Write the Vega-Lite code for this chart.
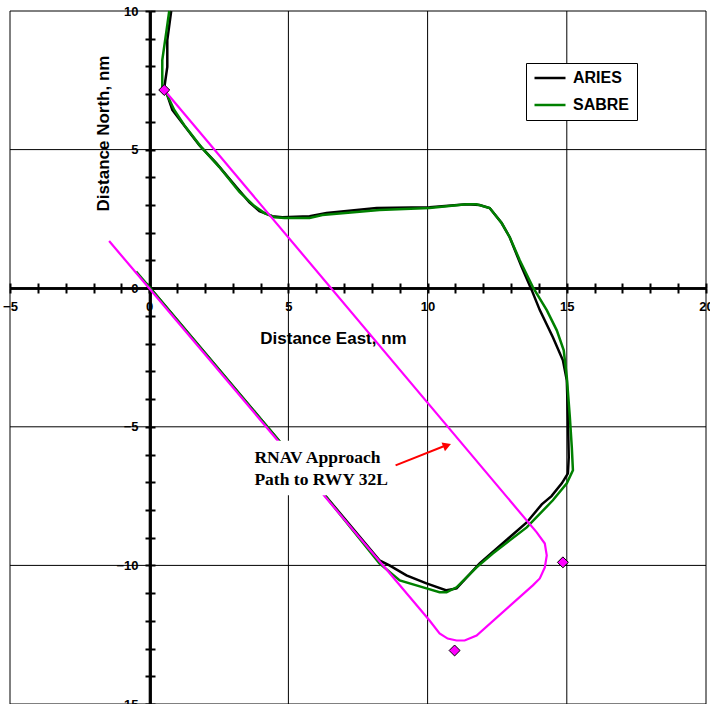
{
  "$schema": "https://vega.github.io/schema/vega-lite/v6.json",
  "width": 696,
  "height": 693,
  "autosize": "none",
  "padding": {"left": 10, "top": 11, "right": 4, "bottom": 0},
  "background": "white",
  "config": {"view": {"stroke": null}},
  "datasets": {
    "gx": [{"v": -5}, {"v": 0}, {"v": 5}, {"v": 10}, {"v": 15}, {"v": 20}],
    "gy": [{"v": -15}, {"v": -10}, {"v": -5}, {"v": 0}, {"v": 5}, {"v": 10}],
    "tracks": [
      {"series": "ARIES", "i": 0, "x": 0.79, "y": 10.0},
      {"series": "ARIES", "i": 1, "x": 0.65, "y": 8.95},
      {"series": "ARIES", "i": 2, "x": 0.65, "y": 7.98},
      {"series": "ARIES", "i": 3, "x": 0.54, "y": 7.22},
      {"series": "ARIES", "i": 4, "x": 0.65, "y": 6.97},
      {"series": "ARIES", "i": 5, "x": 0.83, "y": 6.43},
      {"series": "ARIES", "i": 6, "x": 1.19, "y": 5.96},
      {"series": "ARIES", "i": 7, "x": 1.80, "y": 5.16},
      {"series": "ARIES", "i": 8, "x": 2.41, "y": 4.51},
      {"series": "ARIES", "i": 9, "x": 3.13, "y": 3.65},
      {"series": "ARIES", "i": 10, "x": 3.60, "y": 3.10},
      {"series": "ARIES", "i": 11, "x": 3.96, "y": 2.78},
      {"series": "ARIES", "i": 12, "x": 4.42, "y": 2.60},
      {"series": "ARIES", "i": 13, "x": 4.78, "y": 2.56},
      {"series": "ARIES", "i": 14, "x": 5.76, "y": 2.60},
      {"series": "ARIES", "i": 15, "x": 6.37, "y": 2.71},
      {"series": "ARIES", "i": 16, "x": 8.17, "y": 2.89},
      {"series": "ARIES", "i": 17, "x": 10.07, "y": 2.92},
      {"series": "ARIES", "i": 18, "x": 11.40, "y": 3.03},
      {"series": "ARIES", "i": 19, "x": 11.87, "y": 3.00},
      {"series": "ARIES", "i": 20, "x": 12.23, "y": 2.89},
      {"series": "ARIES", "i": 21, "x": 12.66, "y": 2.35},
      {"series": "ARIES", "i": 22, "x": 12.95, "y": 1.84},
      {"series": "ARIES", "i": 23, "x": 13.38, "y": 0.76},
      {"series": "ARIES", "i": 24, "x": 13.74, "y": -0.07},
      {"series": "ARIES", "i": 25, "x": 14.03, "y": -0.79},
      {"series": "ARIES", "i": 26, "x": 14.50, "y": -1.77},
      {"series": "ARIES", "i": 27, "x": 14.86, "y": -2.60},
      {"series": "ARIES", "i": 28, "x": 15.00, "y": -3.32},
      {"series": "ARIES", "i": 29, "x": 15.04, "y": -4.66},
      {"series": "ARIES", "i": 30, "x": 15.07, "y": -6.10},
      {"series": "ARIES", "i": 31, "x": 15.04, "y": -6.68},
      {"series": "ARIES", "i": 32, "x": 14.82, "y": -7.04},
      {"series": "ARIES", "i": 33, "x": 14.45, "y": -7.50},
      {"series": "ARIES", "i": 34, "x": 14.10, "y": -7.80},
      {"series": "ARIES", "i": 35, "x": 13.56, "y": -8.45},
      {"series": "ARIES", "i": 36, "x": 11.87, "y": -9.93},
      {"series": "ARIES", "i": 37, "x": 11.04, "y": -10.83},
      {"series": "ARIES", "i": 38, "x": 10.68, "y": -10.90},
      {"series": "ARIES", "i": 39, "x": 9.96, "y": -10.65},
      {"series": "ARIES", "i": 40, "x": 9.24, "y": -10.36},
      {"series": "ARIES", "i": 41, "x": 8.63, "y": -10.00},
      {"series": "ARIES", "i": 42, "x": 8.27, "y": -9.82},
      {"series": "ARIES", "i": 43, "x": 6.0, "y": -7.09},
      {"series": "ARIES", "i": 44, "x": 4.0, "y": -4.71},
      {"series": "ARIES", "i": 45, "x": 2.0, "y": -2.33},
      {"series": "ARIES", "i": 46, "x": -0.1, "y": 0.17},
      {"series": "SABRE", "i": 0, "x": 0.72, "y": 10.0},
      {"series": "SABRE", "i": 1, "x": 0.61, "y": 9.21},
      {"series": "SABRE", "i": 2, "x": 0.47, "y": 8.23},
      {"series": "SABRE", "i": 3, "x": 0.47, "y": 7.26},
      {"series": "SABRE", "i": 4, "x": 0.61, "y": 7.04},
      {"series": "SABRE", "i": 5, "x": 0.90, "y": 6.43},
      {"series": "SABRE", "i": 6, "x": 1.26, "y": 5.88},
      {"series": "SABRE", "i": 7, "x": 1.87, "y": 5.09},
      {"series": "SABRE", "i": 8, "x": 2.52, "y": 4.37},
      {"series": "SABRE", "i": 9, "x": 3.24, "y": 3.47},
      {"series": "SABRE", "i": 10, "x": 3.78, "y": 2.96},
      {"series": "SABRE", "i": 11, "x": 4.14, "y": 2.71},
      {"series": "SABRE", "i": 12, "x": 4.50, "y": 2.56},
      {"series": "SABRE", "i": 13, "x": 4.86, "y": 2.53},
      {"series": "SABRE", "i": 14, "x": 5.76, "y": 2.53},
      {"series": "SABRE", "i": 15, "x": 6.22, "y": 2.64},
      {"series": "SABRE", "i": 16, "x": 8.27, "y": 2.82},
      {"series": "SABRE", "i": 17, "x": 10.07, "y": 2.89},
      {"series": "SABRE", "i": 18, "x": 11.40, "y": 3.03},
      {"series": "SABRE", "i": 19, "x": 11.76, "y": 3.03},
      {"series": "SABRE", "i": 20, "x": 12.23, "y": 2.89},
      {"series": "SABRE", "i": 21, "x": 12.66, "y": 2.35},
      {"series": "SABRE", "i": 22, "x": 12.95, "y": 1.84},
      {"series": "SABRE", "i": 23, "x": 13.31, "y": 1.01},
      {"series": "SABRE", "i": 24, "x": 13.78, "y": 0.04},
      {"series": "SABRE", "i": 25, "x": 14.28, "y": -0.79},
      {"series": "SABRE", "i": 26, "x": 14.64, "y": -1.52},
      {"series": "SABRE", "i": 27, "x": 14.89, "y": -2.24},
      {"series": "SABRE", "i": 28, "x": 15.00, "y": -3.21},
      {"series": "SABRE", "i": 29, "x": 15.11, "y": -4.66},
      {"series": "SABRE", "i": 30, "x": 15.18, "y": -5.74},
      {"series": "SABRE", "i": 31, "x": 15.22, "y": -6.57},
      {"series": "SABRE", "i": 32, "x": 15.00, "y": -7.04},
      {"series": "SABRE", "i": 33, "x": 14.50, "y": -7.65},
      {"series": "SABRE", "i": 34, "x": 13.56, "y": -8.63},
      {"series": "SABRE", "i": 35, "x": 12.34, "y": -9.57},
      {"series": "SABRE", "i": 36, "x": 11.76, "y": -10.07},
      {"series": "SABRE", "i": 37, "x": 11.04, "y": -10.79},
      {"series": "SABRE", "i": 38, "x": 10.68, "y": -10.97},
      {"series": "SABRE", "i": 39, "x": 10.43, "y": -10.97},
      {"series": "SABRE", "i": 40, "x": 9.96, "y": -10.83},
      {"series": "SABRE", "i": 41, "x": 9.00, "y": -10.54},
      {"series": "SABRE", "i": 42, "x": 8.27, "y": -9.93},
      {"series": "SABRE", "i": 43, "x": 6.0, "y": -7.09},
      {"series": "SABRE", "i": 44, "x": 4.0, "y": -4.71},
      {"series": "SABRE", "i": 45, "x": 2.0, "y": -2.33},
      {"series": "SABRE", "i": 46, "x": 0.0, "y": 0.05},
      {"series": "SABRE", "i": 47, "x": -0.47, "y": 0.6}
    ],
    "rnav": [
      {"i": 0, "x": -1.44, "y": 1.70},
      {"i": 1, "x": 0.0, "y": 0.0},
      {"i": 2, "x": 10.07, "y": -11.99},
      {"i": 3, "x": 10.43, "y": -12.45},
      {"i": 4, "x": 10.72, "y": -12.64},
      {"i": 5, "x": 11.04, "y": -12.71},
      {"i": 6, "x": 11.33, "y": -12.71},
      {"i": 7, "x": 11.76, "y": -12.53},
      {"i": 8, "x": 13.78, "y": -10.72},
      {"i": 9, "x": 14.03, "y": -10.47},
      {"i": 10, "x": 14.21, "y": -10.07},
      {"i": 11, "x": 14.28, "y": -9.64},
      {"i": 12, "x": 14.21, "y": -9.21},
      {"i": 13, "x": 13.92, "y": -8.81},
      {"i": 14, "x": 0.54, "y": 7.15}
    ],
    "waypoints": [
      {"x": 0.54, "y": 7.15},
      {"x": 10.97, "y": -13.07},
      {"x": 14.86, "y": -9.89}
    ],
    "notebox": [{"x": 3.6, "x2": 8.85, "y": -5.5, "y2": -7.47}],
    "note": [
      {"t": "RNAV Approach", "x": 3.78, "y": -6.32},
      {"t": "Path to RWY 32L", "x": 3.78, "y": -7.11}
    ],
    "arrow": [{"x": 8.85, "y": -6.39, "x2": 10.58, "y2": -5.70}],
    "arrowhead": [{"x": 10.70, "y": -5.67}]
  },
  "resolve": {"axis": {"x": "independent", "y": "independent"}},
  "layer": [
    {
      "data": {"name": "gx"},
      "mark": {"type": "rule", "color": "#000000", "strokeWidth": 1},
      "encoding": {
        "x": {
          "field": "v", "type": "quantitative",
          "scale": {"domain": [-5, 20], "nice": false, "zero": false},
          "axis": {
            "orient": "bottom", "offset": -416,
            "values": [-5,-4,-3,-2,-1,0,1,2,3,4,5,6,7,8,9,10,11,12,13,14,15,16,17,18,19,20],
            "labelExpr": "datum.value % 5 == 0 ? datum.label : ''",
            "grid": false, "domain": true, "domainColor": "#000000", "domainWidth": 2.5,
            "ticks": true, "tickSize": 5, "tickWidth": 2, "tickColor": "#000000",
            "labelFont": "Liberation Sans", "labelFontWeight": "bold", "labelFontSize": 13,
            "labelColor": "#000000", "labelPadding": 7, "labelFlush": false, "labelOverlap": false, "labelBound": false,
            "title": "Distance East, nm", "titleFont": "Liberation Sans", "titleFontSize": 17,
            "titleFontWeight": "bold", "titleColor": "#000000", "titleX": 323, "titleY": 50,
            "titleBaseline": "middle", "titleAlign": "center", "titleAngle": 0
          }
        }
      }
    },
    {
      "data": {"name": "gy"},
      "mark": {"type": "rule", "color": "#000000", "strokeWidth": 1},
      "encoding": {
        "y": {
          "field": "v", "type": "quantitative",
          "scale": {"domain": [-15, 10], "nice": false, "zero": false},
          "axis": {
            "orient": "left", "offset": -140,
            "values": [-15,-14,-13,-12,-11,-10,-9,-8,-7,-6,-5,-4,-3,-2,-1,0,1,2,3,4,5,6,7,8,9,10],
            "labelExpr": "datum.value % 5 == 0 ? datum.label : ''",
            "grid": false, "domain": true, "domainColor": "#000000", "domainWidth": 2.5,
            "ticks": true, "tickSize": 5, "tickWidth": 2, "tickColor": "#000000",
            "labelFont": "Liberation Sans", "labelFontWeight": "bold", "labelFontSize": 13,
            "labelColor": "#000000", "labelPadding": 7, "labelFlush": false, "labelOverlap": false, "labelBound": false,
            "title": "Distance North, nm", "titleFont": "Liberation Sans", "titleFontSize": 17,
            "titleFontWeight": "bold", "titleColor": "#000000", "titleX": -47, "titleY": 122,
            "titleBaseline": "middle", "titleAlign": "center", "titleAngle": -90
          }
        }
      }
    },
    {
      "data": {"name": "tracks"},
      "mark": {"type": "line", "strokeWidth": 2.5, "interpolate": "linear"},
      "encoding": {
        "x": {
          "field": "x", "type": "quantitative",
          "axis": {
            "orient": "top", "offset": -277,
            "values": [-5,-4,-3,-2,-1,0,1,2,3,4,5,6,7,8,9,10,11,12,13,14,15,16,17,18,19,20],
            "labels": false, "grid": false, "title": null,
            "domain": true, "domainColor": "#000000", "domainWidth": 2.5,
            "ticks": true, "tickSize": 5, "tickWidth": 2, "tickColor": "#000000"
          }
        },
        "y": {
          "field": "y", "type": "quantitative",
          "axis": {
            "orient": "right", "offset": -556,
            "values": [-15,-14,-13,-12,-11,-10,-9,-8,-7,-6,-5,-4,-3,-2,-1,0,1,2,3,4,5,6,7,8,9,10],
            "labels": false, "grid": false, "title": null,
            "domain": true, "domainColor": "#000000", "domainWidth": 2.5,
            "ticks": true, "tickSize": 5, "tickWidth": 2, "tickColor": "#000000"
          }
        },
        "order": {"field": "i", "type": "quantitative"},
        "color": {
          "field": "series", "type": "nominal",
          "scale": {"domain": ["ARIES", "SABRE"], "range": ["#000000", "#008000"]},
          "legend": {
            "orient": "none", "legendX": 516, "legendY": 52, "title": null,
            "fillColor": "#ffffff", "strokeColor": "#000000", "padding": 7, "cornerRadius": 0,
            "symbolType": "stroke", "symbolSize": 961, "symbolStrokeWidth": 2.5,
            "clipHeight": 16,
            "labelFont": "Liberation Sans", "labelFontWeight": "bold", "labelFontSize": 16,
            "labelColor": "#000000", "rowPadding": 11, "labelOffset": 6
          }
        }
      }
    },
    {
      "data": {"name": "rnav"},
      "mark": {"type": "line", "color": "#FF00FF", "strokeWidth": 2.2},
      "encoding": {
        "x": {"field": "x", "type": "quantitative", "axis": null},
        "y": {"field": "y", "type": "quantitative", "axis": null},
        "order": {"field": "i", "type": "quantitative"}
      }
    },
    {
      "data": {"name": "notebox"},
      "mark": {"type": "rect", "color": "#ffffff"},
      "encoding": {
        "x": {"field": "x", "type": "quantitative", "axis": null},
        "x2": {"field": "x2"},
        "y": {"field": "y", "type": "quantitative", "axis": null},
        "y2": {"field": "y2"}
      }
    },
    {
      "data": {"name": "note"},
      "mark": {"type": "text", "align": "left", "baseline": "alphabetic", "font": "Liberation Serif", "fontWeight": "bold", "fontSize": 17.5, "color": "#000000"},
      "encoding": {
        "x": {"field": "x", "type": "quantitative", "axis": null},
        "y": {"field": "y", "type": "quantitative", "axis": null},
        "text": {"field": "t"}
      }
    },
    {
      "data": {"name": "arrow"},
      "mark": {"type": "rule", "color": "#FF0000", "strokeWidth": 2},
      "encoding": {
        "x": {"field": "x", "type": "quantitative", "axis": null},
        "y": {"field": "y", "type": "quantitative", "axis": null},
        "x2": {"field": "x2"},
        "y2": {"field": "y2"}
      }
    },
    {
      "data": {"name": "arrowhead"},
      "mark": {"type": "point", "shape": "triangle-right", "angle": 339, "size": 90, "filled": true, "color": "#FF0000", "opacity": 1},
      "encoding": {
        "x": {"field": "x", "type": "quantitative", "axis": null},
        "y": {"field": "y", "type": "quantitative", "axis": null}
      }
    },
    {
      "data": {"name": "waypoints"},
      "mark": {"type": "point", "shape": "diamond", "size": 120, "filled": true, "fill": "#FF00FF", "stroke": "#000000", "strokeWidth": 1, "opacity": 1},
      "encoding": {
        "x": {"field": "x", "type": "quantitative", "axis": null},
        "y": {"field": "y", "type": "quantitative", "axis": null}
      }
    }
  ]
}
